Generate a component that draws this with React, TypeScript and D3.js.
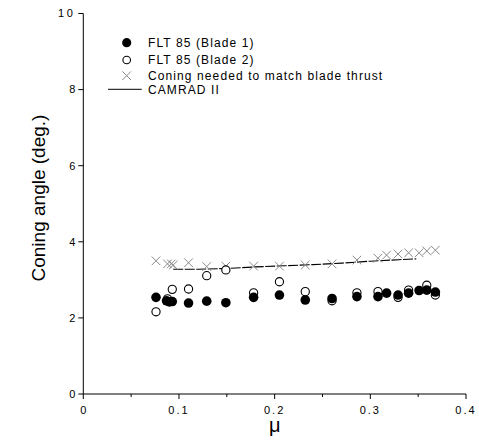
import React from "react";
import * as d3 from "d3";

const blade1Mu = [0.076, 0.087, 0.090, 0.093, 0.110, 0.129, 0.149, 0.178, 0.205, 0.232, 0.260, 0.286, 0.308, 0.317, 0.329, 0.340, 0.351, 0.359, 0.368];
const blade1Cone = [2.54, 2.45, 2.42, 2.43, 2.39, 2.44, 2.40, 2.54, 2.60, 2.47, 2.51, 2.56, 2.56, 2.65, 2.60, 2.65, 2.72, 2.73, 2.68];

const blade2Mu = [0.076, 0.088, 0.093, 0.110, 0.129, 0.149, 0.178, 0.205, 0.232, 0.260, 0.286, 0.308, 0.329, 0.340, 0.359, 0.368];
const blade2Cone = [2.16, 2.50, 2.75, 2.76, 3.11, 3.26, 2.66, 2.95, 2.69, 2.45, 2.66, 2.69, 2.54, 2.73, 2.86, 2.60];

const thrustMu = [0.076, 0.088, 0.092, 0.094, 0.110, 0.129, 0.149, 0.178, 0.205, 0.232, 0.260, 0.286, 0.308, 0.317, 0.329, 0.340, 0.351, 0.359, 0.368];
const thrustCone = [3.50, 3.42, 3.42, 3.39, 3.45, 3.35, 3.36, 3.36, 3.36, 3.39, 3.42, 3.52, 3.57, 3.65, 3.68, 3.71, 3.71, 3.76, 3.78];

const camradMu = [0.094, 0.12, 0.15, 0.18, 0.21, 0.24, 0.27, 0.30, 0.33, 0.348];
const camradCone = [3.28, 3.28, 3.30, 3.34, 3.37, 3.40, 3.44, 3.49, 3.53, 3.55];

const xMajor = [0, 0.1, 0.2, 0.3, 0.4];
const xMinor = [0.05, 0.15, 0.25, 0.35];
const yMajor = [0, 2, 4, 6, 8, 10];

const legendLabels = ["FLT 85 (Blade 1)", "FLT 85 (Blade 2)", "Coning needed to match blade thrust", "CAMRAD II"];

const FONT = "'Liberation Sans', Arial, sans-serif";

export default function App() {
  const x = d3.scaleLinear().domain([0, 0.4]).range([83.3, 466]);
  const y = d3.scaleLinear().domain([0, 10]).range([394, 13.5]);
  const x0 = x(0);
  const y0 = y(0);

  const line = d3
    .line<number>()
    .x((_, i) => x(camradMu[i]))
    .y((d) => y(d));

  const xSize = 4.3;
  const cross = (cx: number, cy: number, key: string) => (
    <path
      key={key}
      d={`M${cx - xSize},${cy - xSize}L${cx + xSize},${cy + xSize}M${cx - xSize},${cy + xSize}L${cx + xSize},${cy - xSize}`}
      stroke="#8a8a8a"
      strokeWidth={1}
      fill="none"
    />
  );

  const legX = 126.7;
  const legTextX = 148;
  const legY = [42.7, 60, 75.7, 89.3];

  return (
    <svg
      width={479}
      height={445}
      style={{ position: "absolute", left: 0, top: 0, background: "#fff" }}
      fontFamily={FONT}
    >
      <rect x={0} y={0} width={479} height={445} fill="#fff" />
      {/* axes */}
      <line x1={x0} y1={y(10)} x2={x0} y2={y0} stroke="#000" strokeWidth={1} />
      <line x1={x0} y1={y0} x2={x(0.4)} y2={y0} stroke="#000" strokeWidth={1} />
      {yMajor.map((v) => (
        <g key={"y" + v}>
          <line x1={x0 - 5} x2={x0} y1={y(v)} y2={y(v)} stroke="#000" />
          <text
            x={x0 - 8}
            y={y(v)}
            dy="0.35em"
            textAnchor="end"
            fontSize={11}
            letterSpacing={v === 10 ? 2.5 : 0}
          >
            {v}
          </text>
        </g>
      ))}
      {xMajor.map((v) => (
        <g key={"x" + v}>
          <line x1={x(v)} x2={x(v)} y1={y0} y2={y0 + 5} stroke="#000" />
          <text x={x(v)} y={y0 + 20} textAnchor="middle" fontSize={11} letterSpacing={v === 0 ? 0 : 2}>
            {v === 0 ? "0" : d3.format(".1f")(v)}
          </text>
        </g>
      ))}
      {xMinor.map((v) => (
        <line key={"xm" + v} x1={x(v)} x2={x(v)} y1={y0} y2={y0 + 3} stroke="#000" />
      ))}
      <text
        transform={`translate(45,${y(5.15)}) rotate(-90)`}
        textAnchor="middle"
        fontSize={19}
      >
        Coning angle (deg.)
      </text>
      <text x={x(0.2)} y={432} textAnchor="middle" fontSize={20}>
        μ
      </text>

      {/* CAMRAD line */}
      <path d={line(camradCone) || ""} fill="none" stroke="#000" strokeWidth={1.1} strokeDasharray="10,1.5" />

      {/* thrust crosses */}
      {thrustMu.map((m, i) => cross(x(m), y(thrustCone[i]), "t" + i))}

      {/* blade 2 open */}
      {blade2Mu.map((m, i) => (
        <circle key={"b2" + i} cx={x(m)} cy={y(blade2Cone[i])} r={4.1} fill="#fff" stroke="#000" strokeWidth={1.1} />
      ))}
      {/* blade 1 filled */}
      {blade1Mu.map((m, i) => (
        <circle key={"b1" + i} cx={x(m)} cy={y(blade1Cone[i])} r={4.8} fill="#000" />
      ))}

      {/* legend */}
      <circle cx={legX} cy={legY[0]} r={4.6} fill="#000" />
      <circle cx={legX} cy={legY[1]} r={3.8} fill="#fff" stroke="#000" strokeWidth={1.1} />
      {cross(legX, legY[2], "legx")}
      <line x1={108} x2={141.7} y1={legY[3]} y2={legY[3]} stroke="#000" strokeWidth={1} />
      {legendLabels.map((t, i) => (
        <text key={"l" + i} x={legTextX} y={legY[i]} dy="0.35em" fontSize={12} letterSpacing={1.1}>
          {t}
        </text>
      ))}
    </svg>
  );
}
